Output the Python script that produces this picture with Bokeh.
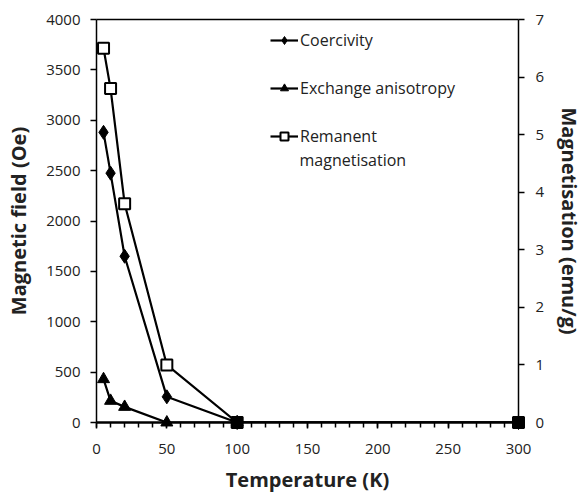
from bokeh.plotting import figure
from bokeh.models import Range1d, LinearAxis, Legend, LegendItem, FixedTicker, Label
from bokeh.embed import file_html
from bokeh.resources import INLINE

# Data
temperature = [5, 10, 20, 50, 100, 300]
coercivity = [2880, 2475, 1650, 255, 0, 0]
exchange = [430, 215, 155, 0, 0, 0]
remanent = [6.5, 5.8, 3.8, 1.0, 0, 0]

x_ticks = [0, 50, 100, 150, 200, 250, 300]
left_ticks = [0, 500, 1000, 1500, 2000, 2500, 3000, 3500, 4000]
right_ticks = [0, 1, 2, 3, 4, 5, 6, 7]

FONT = "Open Sans"

p = figure(width=587, height=495, x_range=Range1d(0, 300), y_range=Range1d(0, 4000),
           output_backend="svg", toolbar_location=None,
           min_border_left=96, min_border_right=69, min_border_top=19, min_border_bottom=73)
p.xgrid.visible = False
p.ygrid.visible = False
p.outline_line_color = None
p.background_fill_color = "white"
p.border_fill_color = "white"

p.extra_y_ranges = {"mag": Range1d(0, 7)}

# Remanent magnetisation (drawn first, underneath)
square_fill = ["white" if v > 0 else "black" for v in remanent]
r_line = p.line(temperature, remanent, y_range_name="mag", line_color="black", line_width=2.2)
r_mark = p.scatter(temperature, remanent, y_range_name="mag", marker="square", size=11,
                   fill_color=square_fill, line_color="black", line_width=2, level="overlay")
# Coercivity
c_line = p.line(temperature, coercivity, line_color="black", line_width=2.2)
c_mark = p.scatter(temperature, coercivity, marker="diamond", size=14,
                   fill_color="black", line_color="black", level="overlay")
# Exchange anisotropy
e_line = p.line(temperature, exchange, line_color="black", line_width=2.2)
e_mark = p.scatter(temperature, exchange, marker="triangle", size=12,
                   fill_color="black", line_color="black", level="overlay")

# Axes
xa = p.xaxis[0]
xa.ticker = FixedTicker(ticks=x_ticks, minor_ticks=list(range(0, 301, 10)))
xa.axis_label = "Temperature (K)"
ya = p.yaxis[0]
ya.ticker = FixedTicker(ticks=left_ticks)
ya.axis_label = "Magnetic field (Oe)"
ra = LinearAxis(y_range_name="mag", ticker=FixedTicker(ticks=right_ticks),
                axis_label="Magnetisation (emu/g)")
p.add_layout(ra, "right")
ta = LinearAxis(major_tick_line_color=None, minor_tick_line_color=None,
                major_label_text_font_size="0px", axis_line_width=1.5, axis_line_color="black")
p.add_layout(ta, "above")

for ax in [xa, ya, ra]:
    ax.axis_line_color = "black"
    ax.axis_line_width = 1.5
    ax.major_tick_line_color = "black"
    ax.major_tick_line_width = 1.5
    ax.major_tick_in = 0
    ax.major_tick_out = 6
    ax.minor_tick_in = 0
    ax.minor_tick_out = 0
    ax.major_label_text_font = FONT
    ax.major_label_text_font_size = "15px"
    ax.major_label_text_color = "#222222"
    ax.axis_label_text_font = FONT
    ax.axis_label_text_font_size = "20px"
    ax.axis_label_text_font_style = "bold"
    ax.axis_label_text_color = "#222222"
    ax.axis_label_text_line_height = 1.0
    ax.major_label_standoff = 10

xa.axis_line_width = 2.5
xa.minor_tick_out = 5
xa.minor_tick_line_color = "black"
xa.minor_tick_line_width = 1.5
xa.major_label_standoff = 15
xa.axis_label_standoff = 9
ya.axis_label_standoff = 11
ra.major_label_standoff = 11
ra.axis_label_standoff = 9

legend = Legend(items=[
    LegendItem(label="Coercivity", renderers=[c_line, c_mark]),
    LegendItem(label="Exchange anisotropy", renderers=[e_line, e_mark]),
    LegendItem(label="Remanent", renderers=[r_line, r_mark]),
], location=(174, 275))
legend.border_line_color = None
legend.background_fill_alpha = 0
legend.padding = 0
legend.margin = 0
legend.spacing = 26
legend.glyph_width = 28
legend.glyph_height = 20
legend.label_height = 20
legend.label_standoff = 2
legend.label_text_font = FONT
legend.label_text_font_size = "16px"
legend.label_text_color = "#222222"
p.add_layout(legend)

# second line of the third legend entry
p.add_layout(Label(x=203, y=263, x_units="screen", y_units="screen", text="magnetisation",
                   text_font=FONT, text_font_size="16px", text_color="#222222",
                   text_baseline="middle", text_align="left"))

open("out.html", "w").write(file_html(p, INLINE))
